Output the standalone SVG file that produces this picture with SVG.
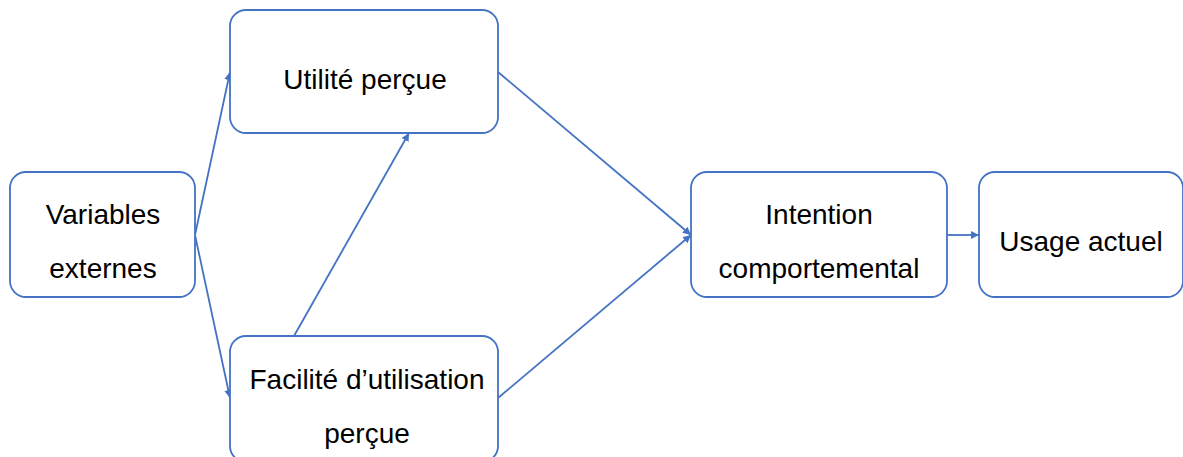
<svg xmlns="http://www.w3.org/2000/svg" width="1183" height="457" viewBox="0 0 1183 457">
<defs>
<style>
.box{fill:#fff;stroke:#4472C4;stroke-width:1.8}
.lbl{font-family:"Liberation Sans",Arial,sans-serif;font-size:28px;fill:#000;text-anchor:middle}
.con{stroke:#4472C4;stroke-width:1.8;fill:none;marker-end:url(#ah)}
</style>
<marker id="ah" viewBox="0 0 10 10" refX="10" refY="5" markerWidth="4.5" markerHeight="4.5" orient="auto" markerUnits="strokeWidth">
<path d="M0,0 L10,5 L0,10 z" fill="#4472C4"/>
</marker>
</defs>
<rect width="1183" height="457" fill="#fff"/>
<g id="connectors">
<line class="con" x1="195" y1="235" x2="230" y2="72"/>
<line class="con" x1="195" y1="235" x2="230" y2="398"/>
<line class="con" x1="294" y1="336" x2="409" y2="133"/>
<line class="con" x1="498" y1="72" x2="691" y2="235"/>
<line class="con" x1="498" y1="398" x2="691" y2="235"/>
<line class="con" x1="947" y1="235" x2="979" y2="235"/>
</g>
<g id="node-variables">
<rect class="box" x="10" y="172" width="185" height="125" rx="16"/>
<text class="lbl" x="103" y="224">Variables</text>
<text class="lbl" x="103" y="278">externes</text>
</g>
<g id="node-utilite">
<rect class="box" x="230" y="10" width="268" height="123" rx="16"/>
<text class="lbl" x="365" y="89">Utilité perçue</text>
</g>
<g id="node-facilite">
<rect class="box" x="230" y="336" width="268" height="126" rx="16"/>
<text class="lbl" x="367" y="389">Facilité d’utilisation</text>
<text class="lbl" x="367" y="443">perçue</text>
</g>
<g id="node-intention">
<rect class="box" x="691" y="172" width="256" height="125" rx="16"/>
<text class="lbl" x="819" y="224">Intention</text>
<text class="lbl" x="819" y="278">comportemental</text>
</g>
<g id="node-usage">
<rect class="box" x="979" y="172" width="204" height="125" rx="16"/>
<text class="lbl" x="1081" y="251">Usage actuel</text>
</g>
</svg>
